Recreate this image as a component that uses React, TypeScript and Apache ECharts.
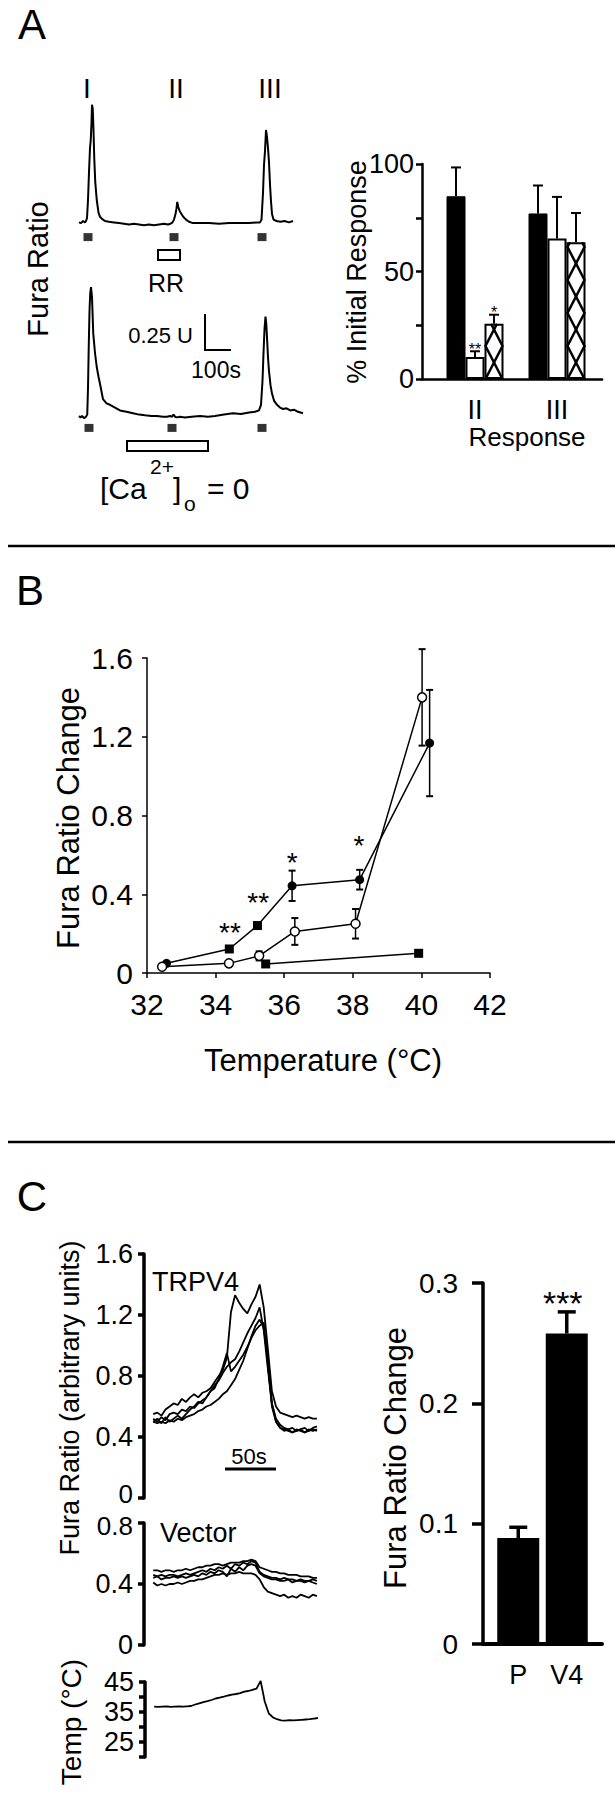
import React, { useEffect, useRef } from "react";
import * as echarts from "echarts";

const FAMILY = '"Liberation Sans", Arial, Helvetica, sans-serif';
const f = (s: number) => `${s}px ${FAMILY}`;

// ---------- Panel A: traces (time in s, ratio in U) ----------
const aTopTime = [0, 8, 16, 24, 28, 32, 36, 40, 44, 47, 50, 52, 55, 58, 61, 65, 71, 78, 84, 92, 104, 120, 140, 160, 180, 200, 220, 240, 260, 280, 300, 320, 340, 356, 366, 374, 380, 386, 390, 393, 397, 403, 410, 417, 428, 440, 456, 480, 520, 560, 600, 640, 680, 710, 724, 730, 736, 740, 744, 748, 752, 756, 760, 764, 768, 772, 778, 790, 806, 822, 840, 856];
const aTopRatio = [0.09, 0.085, 0.10, 0.09, 0.10, 0.12, 0.25, 0.45, 0.62, 0.68, 0.80, 0.93, 0.90, 0.75, 0.55, 0.38, 0.25, 0.16, 0.13, 0.115, 0.10, 0.095, 0.09, 0.085, 0.08, 0.075, 0.08, 0.075, 0.07, 0.075, 0.07, 0.075, 0.08, 0.075, 0.08, 0.09, 0.11, 0.15, 0.19, 0.236, 0.20, 0.17, 0.15, 0.13, 0.11, 0.095, 0.085, 0.085, 0.085, 0.08, 0.085, 0.085, 0.085, 0.09, 0.09, 0.11, 0.30, 0.50, 0.60, 0.75, 0.70, 0.62, 0.52, 0.36, 0.24, 0.15, 0.11, 0.10, 0.095, 0.10, 0.09, 0.10];
const aBotTime = [0, 6, 12, 20, 28, 33, 36, 39, 42, 45, 48, 52, 57, 64, 71, 78, 84, 96, 110, 124, 144, 164, 190, 216, 240, 264, 290, 312, 336, 352, 364, 372, 378, 384, 392, 404, 424, 450, 484, 516, 544, 580, 616, 648, 680, 704, 720, 728, 734, 738, 742, 746, 749, 752, 756, 760, 766, 772, 780, 792, 804, 816, 830, 845, 860, 876, 896];
const aBotRatio = [0.10, 0.09, 0.10, 0.085, 0.095, 0.11, 0.30, 0.60, 0.85, 0.98, 1.02, 0.95, 0.69, 0.55, 0.45, 0.38, 0.33, 0.22, 0.19, 0.18, 0.16, 0.14, 0.13, 0.12, 0.11, 0.105, 0.10, 0.10, 0.095, 0.095, 0.10, 0.095, 0.11, 0.095, 0.09, 0.095, 0.09, 0.095, 0.10, 0.095, 0.10, 0.11, 0.12, 0.115, 0.125, 0.13, 0.14, 0.18, 0.35, 0.55, 0.72, 0.81, 0.76, 0.66, 0.52, 0.42, 0.32, 0.26, 0.21, 0.18, 0.16, 0.15, 0.155, 0.14, 0.145, 0.13, 0.12];
const aTopStimTimes = [36, 380, 732];
const aBotStimTimes = [40, 372, 732];
const aStimLevelTop = -0.015;
const aStimLevelBot = 0.015;
const aRRWindow = [316, 404];
const aRRBox = [-0.107, -0.179];
const aCa0Window = [192, 516];
const aCa0Box = [-0.079, -0.15];

// ---------- Panel A: bars ----------
const aResponses = ["II", "III"];
const aControl = [85, 77];
const aControlErr = [13.4, 13];
const aRR = [10.2, 65.3];
const aRRErr = [2.7, 19.4];
const aCa0 = [25.7, 63.6];
const aCa0Err = [4.2, 13.6];
const aControlStars = ["", ""];
const aRRStars = ["**", ""];
const aCa0Stars = ["*", ""];
const aTickLabels = [0, 50, 100];

// ---------- Panel B ----------
const bTempCtrl = [32.57, 34.4, 35.22, 36.23, 38.2, 40.24];
const bValCtrl = [0.049, 0.122, 0.241, 0.443, 0.474, 1.168];
const bErrCtrl = [0, 0, 0, 0.077, 0.05, 0.27];
const bSymCtrl = ["circle", "rect", "rect", "circle", "circle", "circle"];
const bTempOpen = [32.44, 34.39, 35.27, 36.31, 38.08, 40.02];
const bValOpen = [0.032, 0.049, 0.087, 0.211, 0.25, 1.4];
const bErrOpen = [0, 0, 0.023, 0.068, 0.075, 0.245];
const bTempSq = [35.46, 39.92];
const bValSq = [0.046, 0.1];
const bStarTemp = [34.42, 35.24, 36.23, 38.18];
const bStarVal = [0.208, 0.356, 0.559, 0.65];
const bStarText = ["**", "**", "*", "*"];

// ---------- Panel C: traces ----------
const cTime = [9, 13, 17, 21, 25, 29, 33, 37, 41, 45, 49, 53, 57, 61, 65, 69, 73, 77, 81, 85, 89, 93, 97, 101, 105, 109, 113, 117, 121, 125, 129, 133, 137, 141, 145, 149, 153, 157, 161, 165, 169];
const trpv4A = [0.55, 0.56, 0.54, 0.58, 0.60, 0.62, 0.61, 0.65, 0.63, 0.66, 0.68, 0.66, 0.69, 0.70, 0.72, 0.76, 0.80, 0.84, 0.92, 1.22, 1.33, 1.28, 1.24, 1.21, 1.27, 1.32, 1.40, 1.25, 0.98, 0.70, 0.60, 0.56, 0.55, 0.54, 0.53, 0.54, 0.53, 0.52, 0.53, 0.52, 0.52];
const trpv4B = [0.52, 0.50, 0.53, 0.51, 0.55, 0.56, 0.55, 0.58, 0.57, 0.60, 0.59, 0.62, 0.64, 0.66, 0.70, 0.74, 0.77, 0.82, 0.86, 0.89, 0.91, 0.96, 1.02, 1.08, 1.13, 1.18, 1.25, 1.10, 0.85, 0.62, 0.52, 0.48, 0.46, 0.45, 0.46, 0.44, 0.45, 0.46, 0.44, 0.46, 0.47];
const trpv4C = [0.50, 0.52, 0.49, 0.53, 0.50, 0.52, 0.54, 0.52, 0.55, 0.58, 0.60, 0.63, 0.62, 0.66, 0.70, 0.72, 0.78, 0.86, 0.95, 0.83, 0.86, 0.90, 0.94, 0.99, 1.05, 1.10, 1.13, 1.15, 0.88, 0.60, 0.50, 0.46, 0.45, 0.44, 0.43, 0.45, 0.44, 0.43, 0.45, 0.44, 0.45];
const trpv4D = [0.50, 0.49, 0.50, 0.49, 0.51, 0.50, 0.52, 0.51, 0.53, 0.54, 0.55, 0.57, 0.58, 0.60, 0.61, 0.63, 0.65, 0.68, 0.70, 0.74, 0.78, 0.84, 0.90, 0.98, 1.06, 1.13, 1.17, 1.12, 0.90, 0.62, 0.50, 0.46, 0.44, 0.45, 0.43, 0.44, 0.45, 0.43, 0.44, 0.45, 0.44];
const vecA = [0.49, 0.49, 0.48, 0.49, 0.49, 0.48, 0.49, 0.49, 0.50, 0.49, 0.50, 0.51, 0.51, 0.52, 0.52, 0.53, 0.53, 0.52, 0.53, 0.54, 0.54, 0.54, 0.55, 0.55, 0.56, 0.55, 0.51, 0.50, 0.49, 0.48, 0.48, 0.47, 0.47, 0.46, 0.46, 0.46, 0.45, 0.45, 0.45, 0.44, 0.44];
const vecB = [0.46, 0.45, 0.46, 0.45, 0.46, 0.46, 0.45, 0.46, 0.47, 0.46, 0.47, 0.48, 0.49, 0.48, 0.50, 0.49, 0.51, 0.50, 0.52, 0.50, 0.53, 0.52, 0.54, 0.53, 0.55, 0.54, 0.48, 0.46, 0.45, 0.44, 0.44, 0.43, 0.44, 0.43, 0.43, 0.42, 0.43, 0.42, 0.42, 0.43, 0.42];
const vecC = [0.44, 0.45, 0.43, 0.44, 0.44, 0.45, 0.44, 0.45, 0.44, 0.45, 0.46, 0.45, 0.47, 0.46, 0.48, 0.47, 0.49, 0.48, 0.45, 0.50, 0.48, 0.51, 0.49, 0.52, 0.53, 0.52, 0.47, 0.45, 0.44, 0.43, 0.43, 0.42, 0.42, 0.43, 0.41, 0.42, 0.42, 0.41, 0.42, 0.41, 0.40];
const vecD = [0.41, 0.39, 0.40, 0.39, 0.40, 0.40, 0.41, 0.40, 0.41, 0.42, 0.42, 0.43, 0.43, 0.44, 0.45, 0.46, 0.46, 0.47, 0.46, 0.47, 0.47, 0.48, 0.47, 0.47, 0.47, 0.46, 0.43, 0.38, 0.35, 0.34, 0.33, 0.32, 0.33, 0.31, 0.32, 0.31, 0.33, 0.32, 0.31, 0.33, 0.32];
const tempC = [36.8, 36.7, 36.8, 36.9, 36.7, 36.8, 36.9, 36.8, 36.9, 37.0, 37.5, 37.9, 38.3, 38.6, 39.0, 39.5, 39.8, 40.1, 40.5, 40.8, 41.0, 41.3, 41.8, 42.0, 42.4, 42.8, 45.4, 38.5, 34.5, 33.2, 32.6, 32.2, 32.1, 32.3, 32.2, 32.3, 32.4, 32.5, 32.6, 32.8, 33.0];
const tempTickLabels = [25, 35, 45];

// ---------- Panel C: bars ----------
const cGroups = ["P", "V4"];
const cBarVals = [0.088, 0.258];
const cBarErr = [0.009, 0.018];
const cStars = ["", "***"];

const A_BAR_W = 19;

function zigzag(x0: number, x1: number, yBase: number, yTop: number, half: number, startLeft: boolean) {
  const pts: number[][] = [];
  let y = yBase;
  let left = startLeft;
  pts.push([left ? x0 : x1, y]);
  while (y - half > yTop) {
    y -= half;
    left = !left;
    pts.push([left ? x0 : x1, y]);
  }
  const frac = (y - yTop) / half;
  const nx = left ? x0 + frac * (x1 - x0) : x1 - frac * (x1 - x0);
  pts.push([nx, yTop]);
  return pts;
}

function txt(text: string, x: number, y: number, size: number, o: any = {}) {
  const align = o.align || "center";
  const va = o.va || "middle";
  return {
    type: "text",
    x,
    y,
    rotation: o.rot || 0,
    silent: true,
    style: { text, font: f(size), fill: "#000", align, verticalAlign: va, textAlign: align, textVerticalAlign: va },
  };
}
function ln(x1: number, y1: number, x2: number, y2: number, w: number) {
  return { type: "line", silent: true, shape: { x1, y1, x2, y2 }, style: { stroke: "#000", lineWidth: w } };
}

function buildOption() {
  const grids = [
    { left: 79, top: 95, width: 228, height: 168 },
    { left: 79, top: 276, width: 228, height: 182 },
    { left: 422, top: 164, width: 180, height: 215 },
    { left: 434, top: 164, width: 164, height: 215 },
    { left: 147, top: 658, width: 343, height: 315 },
    { left: 144, top: 1254, width: 176, height: 244 },
    { left: 144, top: 1523, width: 176, height: 122 },
    { left: 145, top: 1682, width: 176, height: 75 },
    { left: 483, top: 1283, width: 119, height: 361 },
    { left: 494, top: 1283, width: 97, height: 361 },
  ].map((g) => ({ ...g, show: false, containLabel: false }));

  const hiddenVal = (gi: number, min: number, max: number) => ({ type: "value", gridIndex: gi, min, max, show: false });
  const lineOnly = (gi: number, w: number) => ({
    type: "value", gridIndex: gi, min: 0, max: 1,
    axisLine: { show: true, onZero: false, lineStyle: { color: "#000", width: w } },
    axisTick: { show: false }, axisLabel: { show: false }, splitLine: { show: false },
  });
  const catAxis = (gi: number, data: string[], size: number, margin: number) => ({
    type: "category", gridIndex: gi, data,
    axisLine: { show: false }, axisTick: { show: false }, splitLine: { show: false },
    axisLabel: { fontSize: size, color: "#000", fontFamily: FAMILY, margin },
  });
  const yAx = (gi: number, min: number, max: number, interval: number, lw: number, tickLen: number, size: number, margin: number, formatter: any) => ({
    type: "value", gridIndex: gi, min, max, interval,
    axisLine: { show: true, onZero: false, lineStyle: { color: "#000", width: lw } },
    axisTick: { show: true, length: tickLen, lineStyle: { color: "#000", width: lw } },
    axisLabel: { fontSize: size, color: "#000", fontFamily: FAMILY, margin, formatter },
    splitLine: { show: false },
  });
  const dec = (v: number) => (v === 0 ? "0" : v.toFixed(1));

  const xAxis = [
    hiddenVal(0, 0, 912),
    hiddenVal(1, 0, 912),
    lineOnly(2, 2.5),
    catAxis(3, aResponses, 27, 17),
    {
      type: "value", gridIndex: 4, min: 32, max: 42, interval: 2,
      axisLine: { show: true, onZero: false, lineStyle: { color: "#000", width: 1.5 } },
      axisTick: { show: true, length: 5, lineStyle: { color: "#000", width: 1.5 } },
      axisLabel: { fontSize: 30, color: "#000", fontFamily: FAMILY, margin: 16 },
      splitLine: { show: false },
    },
    hiddenVal(5, 0, 172),
    hiddenVal(6, 0, 172),
    hiddenVal(7, 0, 172),
    lineOnly(8, 4),
    catAxis(9, cGroups, 27, 17),
  ];
  const yAxis = [
    hiddenVal(0, -0.2, 1.0),
    hiddenVal(1, -0.2, 1.1),
    yAx(2, 0, 100, 25, 2.5, 6, 27, 8, (v: number) => (aTickLabels.includes(v) ? String(v) : "")),
    hiddenVal(3, 0, 100),
    yAx(4, 0, 1.6, 0.4, 1.5, 5, 30, 14, dec),
    // the "0" of this axis and the "0.8" of the next one are placed as separate texts below (they sit very close)
    yAx(5, 0, 1.6, 0.4, 3.5, 6, 27, 11, (v: number) => (v === 0 ? "" : dec(v))),
    yAx(6, 0, 0.8, 0.4, 3.5, 6, 27, 11, (v: number) => (v >= 0.8 ? "" : dec(v))),
    yAx(7, 20, 45, 5, 3.5, 6, 27, 11, (v: number) => (tempTickLabels.includes(v) ? String(v) : "")),
    yAx(8, 0, 0.3, 0.1, 3.5, 11, 28, 25, dec),
    hiddenVal(9, 0, 0.3),
  ];

  const trace = (ai: number, times: number[], vals: number[], w: number, extra: any = {}) => ({
    type: "line", xAxisIndex: ai, yAxisIndex: ai, silent: true, clip: false,
    data: times.map((t, i) => [t, vals[i]]),
    showSymbol: false, symbol: "none",
    lineStyle: { color: "#000", width: w }, z: 3, ...extra,
  });
  const box = (win: number[], lv: number[]) => ({
    silent: true,
    itemStyle: { color: "#fff", borderColor: "#000", borderWidth: 2 },
    data: [[{ coord: [win[0], lv[0]] }, { coord: [win[1], lv[1]] }]],
  });
  const stim = (ai: number, times: number[], level: number) => ({
    type: "scatter", xAxisIndex: ai, yAxisIndex: ai, silent: true,
    data: times.map((t) => [t, level]), symbol: "rect", symbolSize: [9, 8],
    itemStyle: { color: "#000" }, z: 4,
  });

  // error bar rows for panel A: [cat, mean, err, slot]
  const aGroups = [
    { m: aControl, e: aControlErr, s: aControlStars, slot: -1 },
    { m: aRR, e: aRRErr, s: aRRStars, slot: 0 },
    { m: aCa0, e: aCa0Err, s: aCa0Stars, slot: 1 },
  ];
  const aErrRows: number[][] = [];
  const aErrStars: string[] = [];
  aGroups.forEach((g) => g.m.forEach((m, i) => { aErrRows.push([i, m, g.e[i], g.slot]); aErrStars.push(g.s[i]); }));

  const bErrRows: number[][] = [];
  bTempCtrl.forEach((t, i) => { if (bErrCtrl[i] > 0) bErrRows.push([t, bValCtrl[i], bErrCtrl[i]]); });
  bTempOpen.forEach((t, i) => { if (bErrOpen[i] > 0) bErrRows.push([t, bValOpen[i], bErrOpen[i]]); });

  const series: any[] = [
    // A traces
    trace(0, aTopTime, aTopRatio, 2, { markArea: box(aRRWindow, aRRBox) }),
    stim(0, aTopStimTimes, aStimLevelTop),
    trace(1, aBotTime, aBotRatio, 2, { markArea: box(aCa0Window, aCa0Box) }),
    stim(1, aBotStimTimes, aStimLevelBot),
    // A bars
    { type: "bar", name: "Control", xAxisIndex: 3, yAxisIndex: 3, data: aControl, barWidth: A_BAR_W, barGap: "0%", itemStyle: { color: "#000", borderColor: "#000", borderWidth: 1 }, silent: true },
    { type: "bar", name: "RR", xAxisIndex: 3, yAxisIndex: 3, data: aRR, barWidth: A_BAR_W, barGap: "0%", itemStyle: { color: "#fff", borderColor: "#000", borderWidth: 2 }, silent: true },
    { type: "bar", name: "Ca-free", xAxisIndex: 3, yAxisIndex: 3, data: aCa0, barWidth: A_BAR_W, barGap: "0%", itemStyle: { color: "#fff", borderColor: "#000", borderWidth: 2 }, silent: true },
    {
      type: "custom", xAxisIndex: 3, yAxisIndex: 3, silent: true, z: 5,
      data: aCa0.map((v, i) => [i, v]),
      renderItem: (params: any, api: any) => {
        const i = api.value(0), v = api.value(1);
        const c = api.coord([i, v]);
        const b = api.coord([i, 0]);
        const cx = c[0] + A_BAR_W;
        const x0 = cx - A_BAR_W / 2 + 1, x1 = cx + A_BAR_W / 2 - 1;
        const st = { stroke: "#000", lineWidth: 2.5, fill: null };
        return {
          type: "group",
          children: [
            { type: "polyline", shape: { points: zigzag(x0, x1, b[1], c[1], 33, true) }, style: st },
            { type: "polyline", shape: { points: zigzag(x0, x1, b[1], c[1], 33, false) }, style: st },
          ],
        };
      },
    },
    {
      type: "custom", xAxisIndex: 3, yAxisIndex: 3, silent: true, z: 6,
      data: aErrRows,
      renderItem: (params: any, api: any) => {
        const i = api.value(0), m = api.value(1), e = api.value(2), slot = api.value(3);
        const p = api.coord([i, m]);
        const t = api.coord([i, m + e]);
        const x = p[0] + slot * A_BAR_W;
        const children: any[] = [
          { type: "line", shape: { x1: x, y1: p[1], x2: x, y2: t[1] }, style: { stroke: "#000", lineWidth: 2 } },
          { type: "line", shape: { x1: x - 5, y1: t[1], x2: x + 5, y2: t[1] }, style: { stroke: "#000", lineWidth: 2 } },
        ];
        const s = aErrStars[params.dataIndex];
        if (s) children.push({ type: "text", x, y: t[1] - 2, style: { text: s, font: f(16), fill: "#000", align: "center", verticalAlign: "middle", textAlign: "center", textVerticalAlign: "middle" } });
        return { type: "group", children };
      },
    },
    // B
    {
      type: "custom", xAxisIndex: 4, yAxisIndex: 4, silent: true, z: 3,
      data: bErrRows,
      renderItem: (params: any, api: any) => {
        const t = api.value(0), v = api.value(1), e = api.value(2);
        const hi = api.coord([t, v + e]);
        const lo = api.coord([t, v - e]);
        const x = hi[0];
        return {
          type: "group",
          children: [
            { type: "line", shape: { x1: x, y1: hi[1], x2: x, y2: lo[1] }, style: { stroke: "#000", lineWidth: 1.5 } },
            { type: "line", shape: { x1: x - 3.5, y1: hi[1], x2: x + 3.5, y2: hi[1] }, style: { stroke: "#000", lineWidth: 2 } },
            { type: "line", shape: { x1: x - 3.5, y1: lo[1], x2: x + 3.5, y2: lo[1] }, style: { stroke: "#000", lineWidth: 2 } },
          ],
        };
      },
    },
    {
      type: "line", xAxisIndex: 4, yAxisIndex: 4, silent: true, z: 4,
      data: bTempCtrl.map((t, i) => ({ value: [t, bValCtrl[i]], symbol: bSymCtrl[i] })),
      symbol: "circle", symbolSize: 9, showSymbol: true,
      lineStyle: { color: "#000", width: 1.5 }, itemStyle: { color: "#000" },
    },
    {
      type: "line", xAxisIndex: 4, yAxisIndex: 4, silent: true, z: 4,
      data: bTempOpen.map((t, i) => [t, bValOpen[i]]),
      symbol: "circle", symbolSize: 9, showSymbol: true,
      lineStyle: { color: "#000", width: 1.5 }, itemStyle: { color: "#fff", borderColor: "#000", borderWidth: 1.5 },
    },
    {
      type: "line", xAxisIndex: 4, yAxisIndex: 4, silent: true, z: 4,
      data: bTempSq.map((t, i) => [t, bValSq[i]]),
      symbol: "rect", symbolSize: 9, showSymbol: true,
      lineStyle: { color: "#000", width: 1.5 }, itemStyle: { color: "#000" },
    },
    {
      type: "custom", xAxisIndex: 4, yAxisIndex: 4, silent: true, z: 5,
      data: bStarTemp.map((t, i) => [t, bStarVal[i]]),
      renderItem: (params: any, api: any) => {
        const p = api.coord([api.value(0), api.value(1)]);
        return { type: "text", x: p[0], y: p[1], style: { text: bStarText[params.dataIndex], font: f(28), fill: "#000", align: "center", verticalAlign: "middle", textAlign: "center", textVerticalAlign: "middle" } };
      },
    },
    // C traces
    trace(5, cTime, trpv4A, 1.8),
    trace(5, cTime, trpv4B, 1.8),
    trace(5, cTime, trpv4C, 1.8),
    trace(5, cTime, trpv4D, 1.8),
    trace(6, cTime, vecA, 1.8),
    trace(6, cTime, vecB, 1.8),
    trace(6, cTime, vecC, 1.8),
    trace(6, cTime, vecD, 1.8),
    trace(7, cTime, tempC, 1.8),
    // C bars
    { type: "bar", xAxisIndex: 9, yAxisIndex: 9, data: cBarVals, barWidth: 42, itemStyle: { color: "#000" }, silent: true },
    {
      type: "custom", xAxisIndex: 9, yAxisIndex: 9, silent: true, z: 6,
      data: cBarVals.map((v, i) => [i, v, cBarErr[i]]),
      renderItem: (params: any, api: any) => {
        const i = api.value(0), m = api.value(1), e = api.value(2);
        const p = api.coord([i, m]);
        const t = api.coord([i, m + e]);
        const x = p[0];
        const children: any[] = [
          { type: "line", shape: { x1: x, y1: p[1], x2: x, y2: t[1] }, style: { stroke: "#000", lineWidth: 3.5 } },
          { type: "line", shape: { x1: x - 9, y1: t[1], x2: x + 9, y2: t[1] }, style: { stroke: "#000", lineWidth: 3.5 } },
        ];
        const s = cStars[params.dataIndex];
        if (s) children.push({ type: "text", x: x - 4, y: t[1] - 9, style: { text: s, font: f(34), fill: "#000", align: "center", verticalAlign: "middle", textAlign: "center", textVerticalAlign: "middle" } });
        return { type: "group", children };
      },
    },
  ];

  const R = Math.PI / 2;
  const graphic = [
    // panel letters & separators
    txt("A", 32, 24, 42),
    txt("B", 30, 590, 42),
    txt("C", 32, 1196, 42),
    ln(8, 546, 615, 546, 2.5),
    ln(8, 1142, 615, 1142, 2.5),
    // panel A traces annotations
    txt("I", 87, 88, 28),
    txt("II", 176, 88, 28),
    txt("III", 270, 88, 28),
    txt("RR", 166, 283, 25),
    txt("Fura Ratio", 38, 269, 29, { rot: R }),
    txt("0.25 U", 193, 335, 22, { align: "right" }),
    ln(205, 314, 205, 350, 2),
    ln(204, 350, 231, 350, 2),
    txt("100s", 216, 370, 23),
    txt("[Ca", 100, 488, 30, { align: "left" }),
    txt("2+", 150, 466, 21, { align: "left" }),
    txt("]", 173, 488, 30, { align: "left" }),
    txt("o", 184, 503, 21, { align: "left" }),
    txt("= 0", 207, 488, 30, { align: "left" }),
    // panel A bars
    txt("% Initial Response", 357, 272, 27, { rot: R }),
    txt("Response", 527, 437, 26),
    // panel B
    txt("Fura Ratio Change", 68, 818, 31, { rot: R }),
    txt("Temperature (\u00B0C)", 323, 1060, 31),
    // panel C
    txt("0", 133, 1494, 26, { align: "right" }),
    txt("0.8", 133, 1526, 26, { align: "right" }),
    txt("TRPV4", 152, 1282, 27, { align: "left" }),
    txt("Vector", 160, 1533, 27, { align: "left" }),
    txt("50s", 249, 1456, 22),
    ln(225, 1469, 276, 1469, 3),
    txt("Fura Ratio (arbitrary units)", 70, 1398, 27, { rot: R }),
    txt("Temp (\u00B0C)", 71, 1722, 28, { rot: R }),
    txt("Fura Ratio Change", 395, 1458, 31, { rot: R }),
  ];

  return {
    animation: false,
    backgroundColor: "#fff",
    textStyle: { fontFamily: FAMILY, color: "#000" },
    grid: grids,
    xAxis,
    yAxis,
    series,
    graphic,
  };
}

export default function App() {
  const ref = useRef<HTMLDivElement>(null);
  useEffect(() => {
    const chart = echarts.init(ref.current as HTMLDivElement, null, { renderer: "svg" });
    chart.setOption(buildOption() as any);
    return () => chart.dispose();
  }, []);
  return (
    <div
      ref={ref}
      style={{ position: "absolute", left: 0, top: 0, width: 615, height: 1800, background: "#fff" }}
    />
  );
}
